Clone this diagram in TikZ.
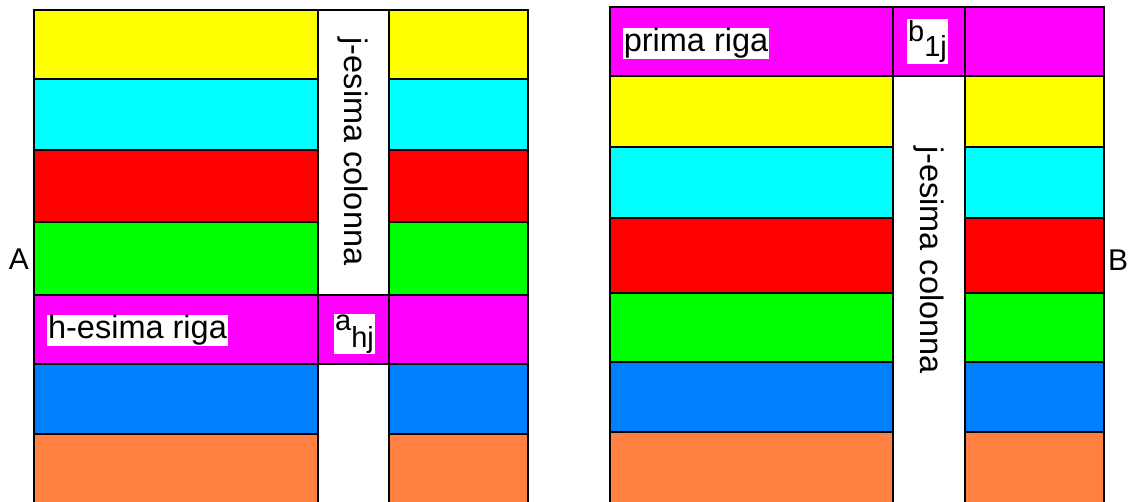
\documentclass[tikz,border=0pt]{standalone}
\usepackage{fontspec}
\setmainfont{Liberation Sans}
\definecolor{cyel}{HTML}{FFFF00}
\definecolor{ccya}{HTML}{00FFFF}
\definecolor{cred}{HTML}{FF0000}
\definecolor{cgrn}{HTML}{00FF00}
\definecolor{cmag}{HTML}{FF00FF}
\definecolor{cblu}{HTML}{0080FF}
\definecolor{corg}{HTML}{FF8040}
\begin{document}
\begin{tikzpicture}[x=1pt,y=-1pt,
  cell/.style={draw=black,line width=2.2pt},
  lbl/.style={fill=white,inner xsep=1pt,inner ysep=0.5pt,font=\fontsize{32.5}{38}\selectfont},
  sub/.style={fill=white,inner xsep=1pt,inner ysep=1pt,font=\fontsize{29}{33}\selectfont},
  mlbl/.style={font=\fontsize{30}{36}\selectfont,inner sep=0pt},
  coltext/.style={rotate=-90,font=\fontsize{32.5}{38}\selectfont,inner sep=0pt}]
\useasboundingbox (0,0) rectangle (1129,502);
\clip (0,0) rectangle (1129,502);
% ---------- Matrix A ----------
\foreach \c/\ya/\yb in {cyel/10/79, ccya/79/150, cred/150/222, cgrn/222/295, cmag/295/364, cblu/364/434, corg/434/508}{
  \draw[cell,fill=\c] (34,\ya) rectangle (318,\yb);
  \draw[cell,fill=\c] (389,\ya) rectangle (528,\yb);
}
\draw[cell,fill=white] (318,10) rectangle (389,295);
\draw[cell,fill=cmag] (318,295) rectangle (389,364);
\draw[cell,fill=white] (318,364) rectangle (389,508);
\node[coltext] (colA) at (353,151.5) {j-esima colonna};
\node[lbl] (rowA) at (137.5,330.5) {h-esima riga};
\node[sub] (ahj) at (354.5,334) {a\raisebox{-17pt}{hj}};
\node[mlbl] (labA) at (19,259) {A};
% ---------- Matrix B ----------
\foreach \c/\ya/\yb in {cmag/7/76, cyel/76/147, ccya/147/218, cred/218/293, cgrn/293/362, cblu/362/432, corg/432/508}{
  \draw[cell,fill=\c] (610,\ya) rectangle (893,\yb);
  \draw[cell,fill=\c] (965,\ya) rectangle (1104,\yb);
}
\draw[cell,fill=cmag] (893,7) rectangle (965,76);
\draw[cell,fill=white] (893,76) rectangle (965,508);
\node[coltext] (colB) at (929,260) {j-esima colonna};
\node[lbl] (rowB) at (696,43.5) {prima riga};
\node[sub] (b1j) at (927.5,41.5) {b\raisebox{-15pt}{1j}};
\node[mlbl] (labB) at (1118,260) {B};
\end{tikzpicture}
\end{document}
